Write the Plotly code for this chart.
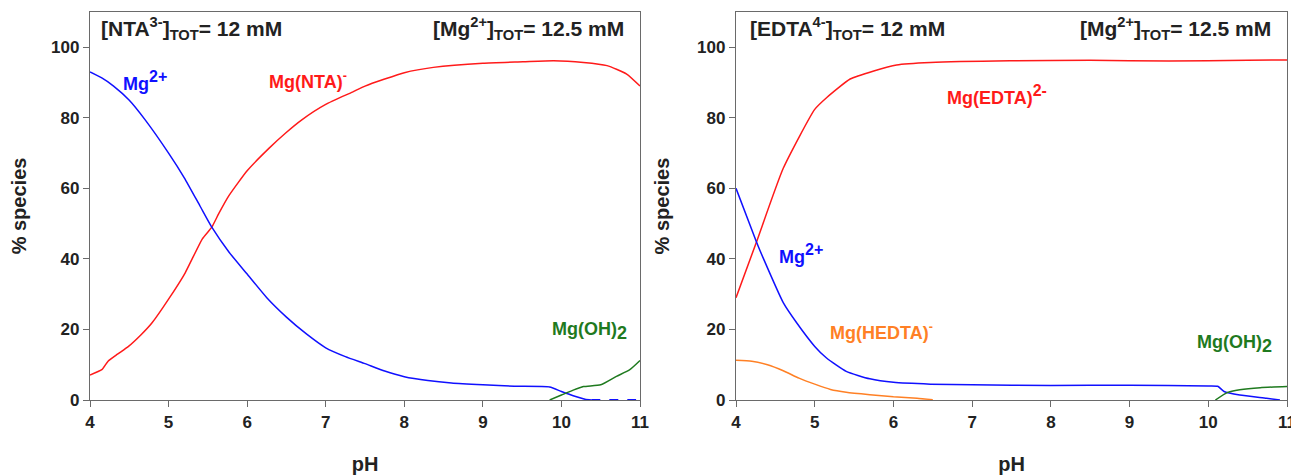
import plotly.graph_objects as go

# ---------------- data ----------------
nta_mg_ph = [4.0, 4.15, 4.3, 4.5, 4.7, 5.0, 5.2, 5.4, 5.55, 5.77, 6.0, 6.25, 6.5, 6.75, 7.0, 7.25, 7.5, 7.75, 8.0, 8.3, 8.6, 9.0, 9.4, 9.85, 10.0, 10.15, 10.3, 10.38]
nta_mg_val = [93.0, 91.3, 89.0, 85.0, 79.5, 70.0, 63.0, 55.0, 49.0, 41.9, 35.7, 29.0, 23.5, 18.8, 14.8, 12.3, 10.3, 8.2, 6.6, 5.5, 4.8, 4.3, 3.9, 3.7, 2.4, 1.2, 0.2, 0.0]

# Mg2+ tail lying on the axis (drawn dashed in the reference)
nta_mg_tail_ph = [10.38, 10.95]
nta_mg_tail_val = [0.0, 0.0]

nta_mgl_ph = [4.0, 4.15, 4.23, 4.35, 4.49, 4.65, 4.79, 5.0, 5.21, 5.43, 5.55, 5.64, 5.77, 6.0, 6.28, 6.49, 6.7, 7.0, 7.34, 7.5, 7.75, 8.0, 8.37, 9.0, 9.51, 9.9, 10.28, 10.58, 10.83, 11.0]
nta_mgl_val = [7.1, 8.6, 11.0, 13.0, 15.2, 18.5, 21.9, 28.6, 36.0, 45.7, 49.0, 52.9, 58.0, 65.0, 71.4, 75.7, 79.5, 83.8, 87.3, 89.0, 91.0, 92.8, 94.3, 95.5, 95.9, 96.2, 95.7, 94.8, 92.4, 89.0]

nta_oh_ph = [9.85, 10.0, 10.15, 10.28, 10.5, 10.7, 10.87, 11.0]
nta_oh_val = [0.0, 1.4, 2.8, 3.8, 4.3, 6.7, 8.6, 11.2]

edta_mg_ph = [4.0, 4.26, 4.35, 4.6, 4.77, 5.0, 5.15, 5.4, 5.7, 6.0, 6.47, 7.0, 8.0, 9.0, 10.0, 10.12, 10.2, 10.4, 10.74, 10.91]
edta_mg_val = [60.0, 44.8, 40.0, 27.6, 21.9, 15.2, 11.9, 8.1, 6.0, 5.0, 4.5, 4.3, 4.1, 4.2, 4.0, 3.9, 2.4, 1.4, 0.5, 0.0]

edta_mgl_ph = [4.0, 4.26, 4.6, 5.0, 5.15, 5.45, 5.75, 6.04, 6.47, 7.48, 8.5, 9.5, 10.5, 11.0]
edta_mgl_val = [29.0, 44.8, 65.7, 82.4, 85.7, 91.0, 93.3, 95.0, 95.7, 96.2, 96.3, 96.1, 96.3, 96.4]

edta_hl_ph = [4.0, 4.2, 4.4, 4.6, 4.8, 5.0, 5.2, 5.4, 5.7, 6.0, 6.3, 6.5]
edta_hl_val = [11.3, 11.0, 10.0, 8.3, 6.2, 4.5, 3.0, 2.2, 1.5, 0.9, 0.5, 0.1]

edta_oh_ph = [10.09, 10.24, 10.4, 10.66, 11.0]
edta_oh_val = [0.0, 2.1, 2.9, 3.5, 3.8]

x_ticks = [4, 5, 6, 7, 8, 9, 10, 11]
y_ticks = [0, 20, 40, 60, 80, 100]

BLUE = "#1010ff"
RED = "#ff1a1a"
GREEN = "#1f7a1f"
ORANGE = "#ff8025"
DARK = "#222222"
FONT = "Liberation Sans, Arial, sans-serif"

fig = go.Figure()

def line(x, y, color, xa, ya, dash="solid", width=1.5):
    fig.add_trace(go.Scatter(x=x, y=y, mode="lines",
                             line=dict(color=color, width=width, shape="spline", smoothing=0.5, dash=dash),
                             xaxis=xa, yaxis=ya, showlegend=False, hoverinfo="skip", cliponaxis=False))

line(nta_mgl_ph, nta_mgl_val, RED, "x", "y")
line(nta_mg_ph, nta_mg_val, BLUE, "x", "y")
line(nta_mg_tail_ph, nta_mg_tail_val, BLUE, "x", "y", dash="dash", width=2)
line(nta_oh_ph, nta_oh_val, GREEN, "x", "y")

line(edta_mgl_ph, edta_mgl_val, RED, "x2", "y2")
line(edta_hl_ph, edta_hl_val, ORANGE, "x2", "y2")
line(edta_mg_ph, edta_mg_val, BLUE, "x2", "y2")
line(edta_oh_ph, edta_oh_val, GREEN, "x2", "y2")

axis_common = dict(
    showline=True, linecolor="#6a6a6a", linewidth=1.3, mirror=True,
    ticks="outside", ticklen=6, tickcolor="#6a6a6a", tickwidth=1,
    showgrid=False, zeroline=False, automargin=False, layer="below traces",
    tickfont=dict(family=FONT, size=17, color=DARK, weight="bold"),
)

xcommon = dict(axis_common, range=[4, 11], tickvals=x_ticks,
               title=dict(text="pH", font=dict(family=FONT, size=20, color=DARK, weight="bold"), standoff=27))
ycommon = dict(axis_common, range=[0, 110], tickvals=y_ticks,
               title=dict(text="% species", font=dict(family=FONT, size=20, color=DARK, weight="bold"), standoff=22))

# the page body adds an 8 px offset, so the figure is 8 px smaller than the window
fig.update_layout(
    width=1291, height=467,
    margin=dict(l=82, r=12, t=4, b=75),
    paper_bgcolor="white", plot_bgcolor="white",
    xaxis=dict(xcommon, domain=[0, 0.4595], anchor="y"),
    yaxis=dict(ycommon, domain=[0, 1], anchor="x"),
    xaxis2=dict(xcommon, domain=[0.5397, 1], anchor="y2"),
    yaxis2=dict(ycommon, domain=[0, 1], anchor="x2"),
)

def ann(text, x, y, xref, yref, color, xanchor="left", size=18):
    fig.add_annotation(text=text, x=x, y=y, xref=xref, yref=yref, showarrow=False,
                       xanchor=xanchor, yanchor="middle",
                       font=dict(family=FONT, size=size, color=color, weight="bold"))

def big(s, px):
    return "<span style='font-size:%dpx'>%s</span>" % (px, s)

# left panel
ann("[NTA<sup>3-</sup>]<sub>TOT</sub>= 12 mM", 4.12, 105.3, "x", "y", DARK, size=21)
ann("[Mg<sup>2+</sup>]<sub>TOT</sub>= 12.5 mM", 10.82, 105.3, "x", "y", DARK, xanchor="right", size=21)
ann("Mg<sup>" + big("2+", 16) + "</sup>", 4.4, 90.5, "x", "y", BLUE)
ann("Mg(NTA)<sup>-</sup>", 6.25, 90.5, "x", "y", RED)
ann("Mg(OH)<sub>" + big("2", 18) + "</sub>", 9.85, 19.5, "x", "y", GREEN)

# right panel
ann("[EDTA<sup>4-</sup>]<sub>TOT</sub>= 12 mM", 4.15, 105.3, "x2", "y2", DARK, size=21)
ann("[Mg<sup>2+</sup>]<sub>TOT</sub>= 12.5 mM", 10.82, 105.3, "x2", "y2", DARK, xanchor="right", size=21)
ann("Mg(EDTA)<sup>" + big("2-", 16) + "</sup>", 6.66, 86.5, "x2", "y2", RED)
ann("Mg<sup>" + big("2+", 16) + "</sup>", 4.52, 41.5, "x2", "y2", BLUE)
ann("Mg(HEDTA)<sup>-</sup>", 5.17, 19.5, "x2", "y2", ORANGE)
ann("Mg(OH)<sub>" + big("2", 18) + "</sub>", 9.83, 15.8, "x2", "y2", GREEN)

fig.write_html("out.html")
